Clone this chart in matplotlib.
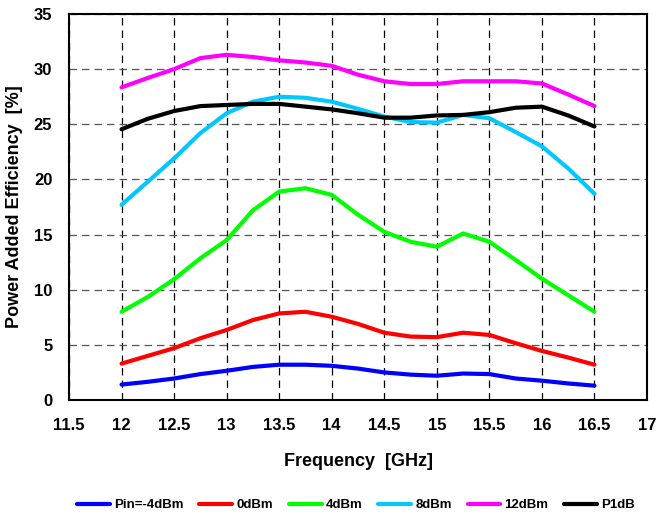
import matplotlib
matplotlib.use("Agg")
import matplotlib.pyplot as plt
from matplotlib.ticker import FuncFormatter

plt.rcParams['font.family'] = ['Liberation Sans', 'DejaVu Sans']
plt.rcParams['font.weight'] = 'bold'

freq = [12.0, 12.25, 12.5, 12.75, 13.0, 13.25, 13.5, 13.75, 14.0, 14.25,
        14.5, 14.75, 15.0, 15.25, 15.5, 15.75, 16.0, 16.25, 16.5]

pin_m4 = [1.4, 1.65, 1.95, 2.35, 2.65, 3.0, 3.2, 3.2, 3.1, 2.85,
          2.5, 2.3, 2.2, 2.4, 2.35, 1.95, 1.75, 1.5, 1.3]
pin_0 = [3.3, 4.0, 4.7, 5.6, 6.35, 7.25, 7.85, 8.0, 7.55, 6.9,
         6.1, 5.75, 5.7, 6.1, 5.9, 5.15, 4.45, 3.85, 3.2]
pin_4 = [8.0, 9.35, 10.95, 12.85, 14.5, 17.2, 18.9, 19.2, 18.6, 16.8,
         15.25, 14.35, 13.9, 15.1, 14.35, 12.7, 11.0, 9.5, 8.0]
pin_8 = [17.7, 19.8, 21.9, 24.2, 26.0, 27.05, 27.5, 27.4, 27.05, 26.4,
         25.7, 25.2, 25.15, 25.85, 25.55, 24.3, 23.0, 21.0, 18.7]
pin_12 = [28.35, 29.2, 30.0, 31.0, 31.3, 31.1, 30.8, 30.6, 30.3, 29.5,
          28.9, 28.65, 28.65, 28.9, 28.9, 28.9, 28.7, 27.7, 26.65]
p1db = [24.55, 25.5, 26.2, 26.65, 26.75, 26.85, 26.85, 26.6, 26.35, 26.0,
        25.6, 25.6, 25.8, 25.85, 26.1, 26.5, 26.6, 25.8, 24.8]

series = [
    ("Pin=-4dBm", pin_m4, "#0000FF"),
    ("0dBm", pin_0, "#FF0000"),
    ("4dBm", pin_4, "#00FF00"),
    ("8dBm", pin_8, "#00C8FF"),
    ("12dBm", pin_12, "#FF00FF"),
    ("P1dB", p1db, "#000000"),
]

fig = plt.figure(figsize=(6.56, 5.15), dpi=100)
ax = fig.add_axes([69/656, 1-400/515, (647-69)/656, (400-14)/515])

for name, vals, col in series:
    ax.plot(freq, vals, color=col, lw=3, label=name, solid_capstyle='round')

ax.set_xlim(11.5, 17)
ax.set_ylim(0, 35)
ax.set_xticks([11.5 + 0.5*i for i in range(12)])
ax.set_yticks(range(0, 36, 5))
ax.xaxis.set_major_formatter(FuncFormatter(lambda v, p: f"{v:g}"))
ax.tick_params(length=0, labelsize=12)
ax.tick_params(axis='x', pad=13)
ax.tick_params(axis='y', pad=12)
for lbl in ax.get_xticklabels() + ax.get_yticklabels():
    lbl.set_fontweight('bold')

ax.grid(True, axis='x', color='#000000', ls=(0, (6, 4)), lw=0.9)
ax.grid(True, axis='y', color='#555555', ls=(0, (6, 4)), lw=0.9)
ax.set_axisbelow(True)
for s in ax.spines.values():
    s.set_linewidth(1.5)

ax.set_xlabel("Frequency  [GHz]", fontsize=13, fontweight='bold', labelpad=14)
ax.set_ylabel("Power Added Efficiency  [%]", fontsize=13, fontweight='bold', labelpad=8)

fig.legend(loc='center', bbox_to_anchor=(356/656, 1-505/515), ncol=6, frameon=False,
           handlelength=2.5, columnspacing=1.2, handletextpad=0.3,
           prop={'weight': 'bold', 'size': 9.5})

fig.savefig("out.png", dpi=100)
